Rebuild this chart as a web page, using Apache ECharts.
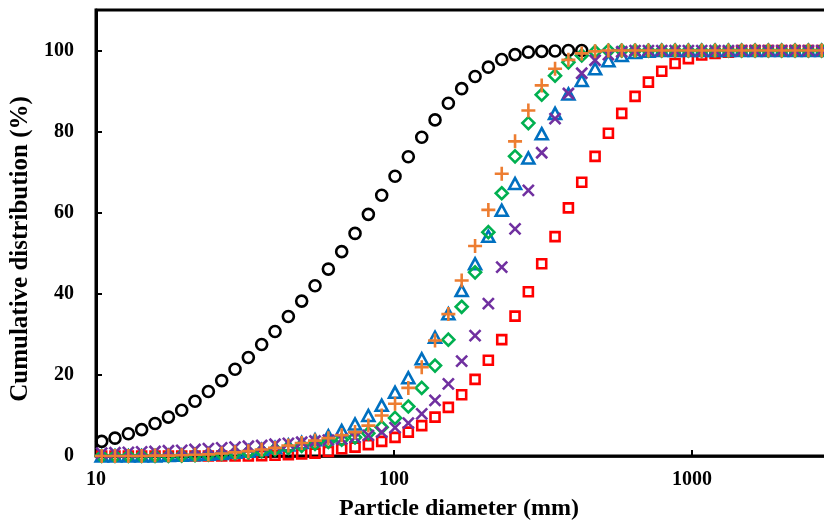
<!DOCTYPE html>
<html>
<head>
<meta charset="utf-8">
<script src="https://cdn.jsdelivr.net/npm/echarts@6/dist/echarts.min.js"></script>
<style>
  html, body { margin: 0; padding: 0; background: #fff; }
  #chart { width: 824px; height: 524px; }
</style>
</head>
<body>
<div id="chart"></div>
<script>
// particle size bins (mm)
const sizes = [
  10.45, 11.58, 12.84, 14.23, 15.78, 17.50, 19.39, 21.49, 23.83, 26.41,
  29.28, 32.45, 35.97, 39.88, 44.21, 49.00, 54.32, 60.22, 66.75, 74.00,
  82.03, 90.93, 100.8, 111.7, 123.9, 137.3, 152.2, 168.7, 187.1, 207.3,
  229.9, 254.8, 282.4, 313.1, 347.1, 384.8, 426.6, 472.9, 524.2, 581.1,
  644.2, 714.1, 791.6, 877.5, 972.4, 1078, 1195, 1325, 1468, 1628,
  1804, 2000, 2217, 2458, 2724
]

// cumulative distribution (%) per sample
const black = [
  3.6, 4.4, 5.5, 6.5, 8.0, 9.6, 11.3, 13.5, 15.9, 18.6,
  21.4, 24.3, 27.5, 30.7, 34.4, 38.2, 42.0, 46.1, 50.4, 54.9,
  59.6, 64.3, 69.0, 73.8, 78.6, 82.9, 87.0, 90.6, 93.6, 95.9,
  97.8, 99.0, 99.6, 99.8, 99.9, 100, 100
]
const red = [
  0, 0, 0, 0, 0, 0, 0, 0, 0, 0,
  0, 0, 0.1, 0.2, 0.3, 0.5, 0.7, 1.1, 1.8, 2.2,
  2.8, 3.6, 4.6, 5.9, 7.5, 9.6, 12.0, 15.1, 18.9, 23.6,
  28.7, 34.5, 40.5, 47.4, 54.1, 61.2, 67.5, 73.9, 79.6, 84.5,
  88.7, 92.2, 94.9, 96.8, 98.0, 98.9, 99.3, 99.6, 100, 100,
  100, 100, 100, 100, 100
]
const blue = [
  0, 0, 0, 0, 0, 0.1, 0.2, 0.3, 0.4, 0.6,
  0.9, 1.2, 1.6, 2.1, 2.7, 3.3, 4.0, 5.0, 6.3, 7.9,
  10.0, 12.5, 15.7, 19.3, 24.0, 29.3, 35.1, 40.8, 47.4, 54.2,
  60.6, 67.2, 73.5, 79.5, 84.5, 89.3, 92.6, 95.5, 97.5, 98.8,
  99.5, 99.8, 100, 100, 100, 100, 100, 100, 100, 100,
  100, 100, 100, 100, 100
]
const green = [
  0, 0, 0, 0, 0, 0, 0.1, 0.2, 0.3, 0.5,
  0.7, 0.9, 1.2, 1.6, 2.0, 2.5, 3.0, 3.5, 4.0, 4.6,
  5.6, 7.1, 9.4, 12.2, 16.8, 22.3, 28.7, 36.8, 45.3, 55.2,
  64.8, 73.9, 82.1, 89.1, 93.8, 97.1, 98.8, 99.7, 100, 100,
  100, 100, 100, 100, 100, 100, 100, 100, 100, 100,
  100, 100, 100, 100, 100
]
const purple = [
  0.7, 0.8, 0.9, 1.0, 1.1, 1.3, 1.4, 1.6, 1.8, 2.0,
  2.2, 2.4, 2.6, 2.9, 3.1, 3.4, 3.7, 3.9, 4.2, 4.6,
  5.1, 5.9, 7.0, 8.1, 10.4, 13.7, 17.8, 23.4, 29.7, 37.6,
  46.6, 56.0, 65.5, 74.8, 83.2, 89.4, 94.4, 97.6, 99.0, 99.7,
  100, 100, 100, 100, 100, 100, 100, 100, 100, 100,
  100, 100, 100, 100, 100
]
const orange = [
  0, 0, 0, 0, 0.1, 0.1, 0.2, 0.3, 0.4, 0.6,
  0.9, 1.2, 1.6, 2.0, 2.6, 3.2, 3.8, 4.4, 5.1, 5.9,
  7.5, 10.0, 12.9, 16.8, 21.9, 28.5, 35.0, 43.3, 51.8, 60.7,
  69.6, 77.6, 85.2, 91.4, 95.5, 97.7, 99.3, 99.8, 100, 100,
  100, 100, 100, 100, 100, 100, 100, 100, 100, 100,
  100, 100, 100, 100, 100
]

const FONT = "'Liberation Serif', 'Times New Roman', serif"
const PLUS = 'path://M0,5L10,5M5,0L5,10'
const CROSS = 'path://M0,0L10,10M10,0L0,10'

function pairs(values) {
  return values.map((v, i) => [sizes[i], v])
}

function markerSeries(name, values, symbol, size, color) {
  return {
    name: name,
    type: 'scatter',
    data: pairs(values),
    symbol: symbol,
    symbolSize: size,
    itemStyle: {
      color: 'transparent',
      borderColor: color,
      borderWidth: 2.6,
      opacity: 1
    },
    emphasis: { disabled: true }
  }
}

// plot runs past the right edge of the picture (10 -> 10000, 3 decades)
const option = {
  animation: false,
  backgroundColor: '#fff',
  textStyle: { fontFamily: FONT },
  grid: {
    left: 96,
    width: 894,
    top: 10,
    bottom: 68,
    outerBoundsMode: 'none',
    containLabel: false,
    show: true,
    borderColor: '#000',
    borderWidth: 3
  },
  xAxis: {
    type: 'log',
    logBase: 10,
    min: 10,
    max: 10000,
    name: 'Particle diameter (mm)',
    nameLocation: 'middle',
    nameGap: 41,
    nameTextStyle: {
      color: '#000',
      fontFamily: FONT,
      fontWeight: 'bold',
      fontSize: 24,
      padding: [0, 168, 0, 0]
    },
    axisLine: { onZero: false, lineStyle: { color: '#000', width: 2.5 } },
    axisTick: { inside: true, length: 6, lineStyle: { color: '#000', width: 2 } },
    minorTick: { show: false },
    splitLine: { show: false },
    axisLabel: {
      color: '#000',
      fontFamily: FONT,
      fontWeight: 'bold',
      fontSize: 20,
      margin: 14,
      formatter: (v) => String(Math.round(v))
    }
  },
  yAxis: {
    type: 'value',
    min: 0,
    max: 110,
    interval: 20,
    name: 'Cumulative distribution (%)',
    nameLocation: 'middle',
    nameGap: 58,
    nameTextStyle: {
      color: '#000',
      fontFamily: FONT,
      fontWeight: 'bold',
      fontSize: 25,
      padding: [0, 32, 0, 0]
    },
    axisLine: { show: true, lineStyle: { color: '#000', width: 3 } },
    axisTick: { show: true, inside: true, length: 6, lineStyle: { color: '#000', width: 2 } },
    splitLine: { show: false },
    axisLabel: {
      color: '#000',
      fontFamily: FONT,
      fontWeight: 'bold',
      fontSize: 20,
      margin: 22,
      formatter: (v) => (v % 20 === 0 ? String(v) : '')
    }
  },
  series: [
    markerSeries('black', black, 'circle', 11, '#000000'),
    markerSeries('red', red, 'rect', 9, '#FF0000'),
    markerSeries('blue', blue, 'triangle', [12, 11], '#0070C0'),
    markerSeries('green', green, 'diamond', 12, '#00B050'),
    markerSeries('purple', purple, CROSS, 11, '#7030A0'),
    markerSeries('orange', orange, PLUS, 14, '#ED7D31')
  ]
}

const mychart = echarts.init(document.getElementById('chart'), null, { renderer: 'canvas' })
mychart.setOption(option)
</script>
</body>
</html>
